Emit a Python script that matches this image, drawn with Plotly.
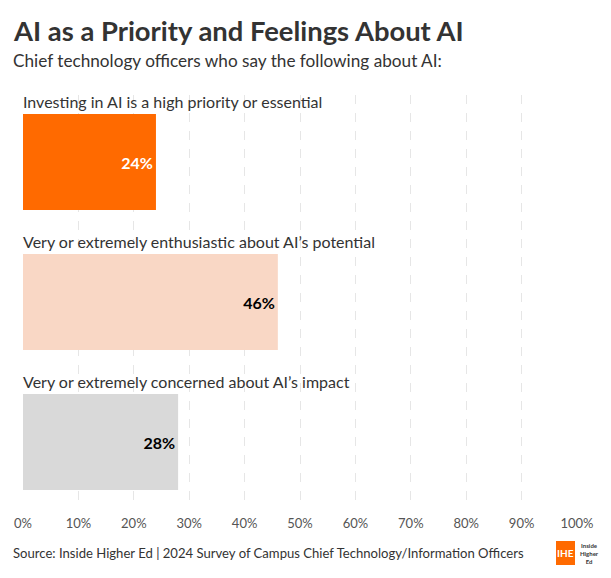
import plotly.graph_objects as go

categories = [
    "Investing in AI is a high priority or essential",
    "Very or extremely enthusiastic about AI’s potential",
    "Very or extremely concerned about AI’s impact",
]
values = [24, 46, 28]
bar_colors = ["#FF6A00", "#F9D7C5", "#D9D9D9"]
text_colors = ["#FFFFFF", "#000000", "#000000"]
tick_vals = [0, 10, 20, 30, 40, 50, 60, 70, 80, 90, 100]
tick_text = [f"{v}%" for v in tick_vals]

W, H = 611, 578
L, R, T, B = 23, 34, 95, 78
PW, PH = W - L - R, H - T - B

def px(x):
    return (x - L) / PW

def py(y):
    return (H - B - y) / PH

FONT = "Lato"

fig = go.Figure()
fig.add_trace(go.Bar(
    x=values,
    y=list(range(len(values))),
    orientation="h",
    marker=dict(color=bar_colors, line=dict(width=0)),
    width=0.686,
    text=[f"{v}%" for v in values],
    textposition="inside",
    insidetextanchor="end",
    textfont=dict(family=FONT, size=16, color=text_colors, weight="bold"),
    cliponaxis=False,
    hoverinfo="skip",
))

annotations = []
for i, c in enumerate(categories):
    annotations.append(dict(
        x=0, y=i - 0.343, xref="x", yref="y", xanchor="left", yanchor="bottom",
        text=c, showarrow=False, font=dict(family=FONT, size=16, color="#333333"),
        yshift=1, xshift=-2,
    ))

annotations += [
    dict(x=px(11), y=py(31), xref="paper", yref="paper", xanchor="left", yanchor="middle",
         text="<b>AI as a Priority and Feelings About AI</b>", showarrow=False,
         font=dict(family=FONT, size=27.4, color="#333333")),
    dict(x=px(11), y=py(60), xref="paper", yref="paper", xanchor="left", yanchor="middle",
         text="Chief technology officers who say the following about AI:", showarrow=False,
         font=dict(family=FONT, size=17.2, color="#333333")),
    dict(x=px(11), y=py(553), xref="paper", yref="paper", xanchor="left", yanchor="middle",
         text="Source: Inside Higher Ed | 2024 Survey of Campus Chief Technology/Information Officers",
         showarrow=False, font=dict(family=FONT, size=13.1, color="#333333")),
    dict(x=px(565), y=py(553), xref="paper", yref="paper", xanchor="center", yanchor="middle",
         text="<b>IHE</b>", showarrow=False, font=dict(family=FONT, size=10, color="#FFFFFF")),
    dict(x=px(578), y=py(553), xref="paper", yref="paper", xanchor="left", yanchor="middle",
         text="<b>Inside<br>Higher<br>Ed</b>", showarrow=False,
         font=dict(family=FONT, size=6, color="#333333")),
]

shapes = [
    dict(type="rect", xref="paper", yref="paper", x0=px(556), x1=px(575), y0=py(565), y1=py(541),
         fillcolor="#FF6A00", line=dict(width=0), layer="below"),
]

fig.update_layout(
    width=W, height=H,
    margin=dict(l=L, r=R, t=T, b=B, pad=0),
    paper_bgcolor="white", plot_bgcolor="white",
    showlegend=False,
    bargap=0.3,
    annotations=annotations,
    shapes=shapes,
    xaxis=dict(
        range=[0, 100], tickvals=tick_vals, ticktext=tick_text,
        showgrid=True, gridcolor="#E6E6E6", gridwidth=1, griddash="dash",
        zeroline=False, showline=False, ticks="", ticklabelstandoff=14,
        tickfont=dict(family=FONT, size=13, color="#555555"),
        fixedrange=True,
    ),
    yaxis=dict(
        range=[2.414, -0.479], showticklabels=False, showgrid=False,
        zeroline=False, showline=False, fixedrange=True,
    ),
)

fig.write_html(
    "out.html",
    config={"displayModeBar": False},
    post_script="document.body.style.margin='0';document.body.style.overflow='hidden';",
)
